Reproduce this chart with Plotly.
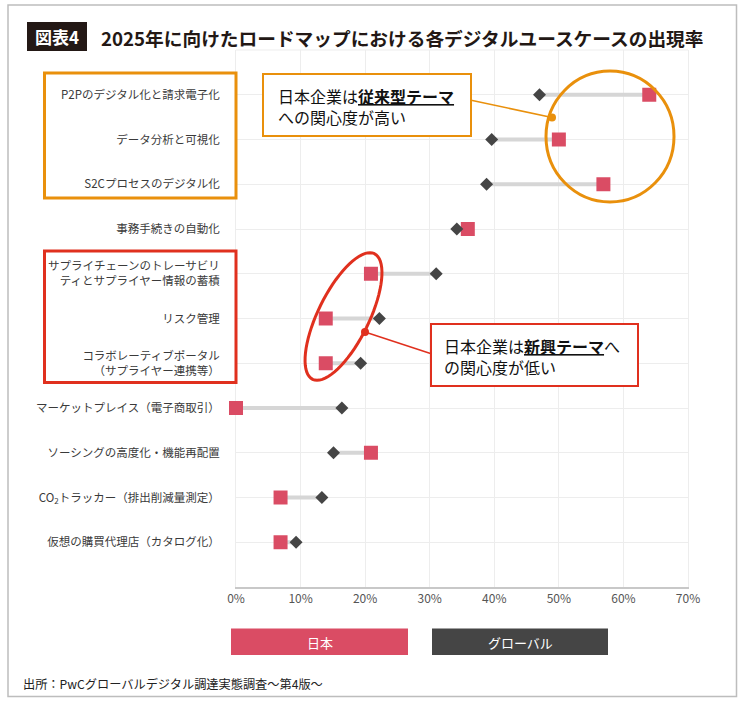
import math
import plotly.graph_objects as go

# ---------------- data ----------------
categories = [
    "P2Pのデジタル化と請求電子化",
    "データ分析と可視化",
    "S2Cプロセスのデジタル化",
    "事務手続きの自動化",
    "サプライチェーンのトレーサビリ<br>ティとサプライヤー情報の蓄積",
    "リスク管理",
    "コラボレーティブポータル<br>（サプライヤー連携等）",
    "マーケットプレイス（電子商取引）",
    "ソーシングの高度化・機能再配置",
    "CO<sub>2</sub>トラッカー（排出削減量測定）",
    "仮想の購買代理店（カタログ化）",
]
japan = [64.0, 50.0, 56.9, 35.9, 20.9, 13.9, 13.9, 0.0, 20.9, 6.9, 6.9]
global_ = [47.0, 39.6, 38.8, 34.2, 31.0, 22.2, 19.3, 16.4, 15.1, 13.3, 9.3]
series_names = ["日本", "グローバル"]
x_ticks = [0, 10, 20, 30, 40, 50, 60, 70]
x_tick_labels = [f"{v}%" for v in x_ticks]

title_tag = "図表4"
title_text = "2025年に向けたロードマップにおける各デジタルユースケースの出現率"
source_text = "出所：PwCグローバルデジタル調達実態調査～第4版～"
callout_high = "日本企業は<span style='font-weight:bold;text-decoration:underline'>従来型テーマ</span><br>への関心度が高い"
callout_low = "日本企業は<span style='font-weight:bold;text-decoration:underline'>新興テーマ</span>へ<br>の関心度が低い"

# ---------------- styles ----------------
FONT = "Noto Sans CJK JP"
C_JP = "#DA4C64"
C_GL = "#454545"
C_CONN = "#D6D6D6"
C_ORANGE = "#E9900C"
C_RED = "#E0301E"
C_GRID = "#EDEDED"

W, H = 740, 704
L, R, T, B = 236, 688, 50, 587


def px(x):
    return (x - L) / (R - L)


def py(y):
    return (B - y) / (B - T)


rows = list(range(len(categories)))

fig = go.Figure()

# connectors
cx, cy = [], []
for i, (a, b) in enumerate(zip(japan, global_)):
    cx += [a, b, None]
    cy += [i, i, None]
fig.add_trace(go.Scatter(x=cx, y=cy, mode="lines", line=dict(color=C_CONN, width=4),
                         hoverinfo="skip", showlegend=False, cliponaxis=False))
fig.add_trace(go.Scatter(x=japan, y=rows, mode="markers", name=series_names[0],
                         marker=dict(symbol="square", size=14, color=C_JP),
                         showlegend=False, cliponaxis=False))
fig.add_trace(go.Scatter(x=global_, y=rows, mode="markers", name=series_names[1],
                         marker=dict(symbol="diamond", size=10, color=C_GL),
                         showlegend=False, cliponaxis=False))

shapes = []
annotations = []

# outer frame
shapes.append(dict(type="rect", xref="paper", yref="paper", x0=px(8), x1=px(736.5),
                   y0=py(5), y1=py(696.5), line=dict(color="#BDBDBD", width=1.5), layer="below"))
# top grid border
shapes.append(dict(type="line", xref="paper", yref="paper", x0=0, x1=1, y0=1, y1=1,
                   line=dict(color=C_GRID, width=1), layer="below"))

# title tag box
shapes.append(dict(type="rect", xref="paper", yref="paper", x0=px(27), x1=px(87),
                   y0=py(51), y1=py(22), fillcolor="#231815", line=dict(width=0)))
annotations.append(dict(xref="paper", yref="paper", x=px(57), y=py(36.5), text=f"<b>{title_tag}</b>",
                        showarrow=False, xanchor="center", yanchor="middle",
                        font=dict(family=FONT, size=17, color="white")))
annotations.append(dict(xref="paper", yref="paper", x=px(99), y=py(37), text=f"<b>{title_text}</b>",
                        showarrow=False, xanchor="left", yanchor="middle",
                        font=dict(family=FONT, size=18.7, color="#231815")))

# category group boxes
shapes.append(dict(type="rect", xref="paper", yref="paper", x0=px(44.5), x1=px(236),
                   y0=py(198), y1=py(73), line=dict(color=C_ORANGE, width=3)))
shapes.append(dict(type="rect", xref="paper", yref="paper", x0=px(44.5), x1=px(236),
                   y0=py(382.5), y1=py(251), line=dict(color=C_RED, width=3)))

# orange ellipse
shapes.append(dict(type="circle", xref="paper", yref="paper", x0=px(546), x1=px(674),
                   y0=py(202), y1=py(71), line=dict(color=C_ORANGE, width=3)))

# red rotated ellipse
cxp, cyp, a_ax, b_ax, th = 343.5, 316.5, 70.0, 25.5, math.radians(-63.8)
pts = []
for k in range(73):
    t = 2 * math.pi * k / 72
    ex = a_ax * math.cos(t)
    ey = b_ax * math.sin(t)
    xx = cxp + ex * math.cos(th) - ey * math.sin(th)
    yy = cyp + ex * math.sin(th) + ey * math.cos(th)
    pts.append((px(xx), py(yy)))
path = "M " + " L ".join(f"{x:.5f},{y:.5f}" for x, y in pts) + " Z"
shapes.append(dict(type="path", xref="paper", yref="paper", path=path,
                   line=dict(color=C_RED, width=3)))

# callout 1 (orange)
shapes.append(dict(type="line", xref="paper", yref="paper", x0=px(470), y0=py(100),
                   x1=px(552), y1=py(117.5), line=dict(color=C_ORANGE, width=1.5)))
shapes.append(dict(type="circle", xref="paper", yref="paper", x0=px(548), x1=px(556),
                   y0=py(121.5), y1=py(113.5), fillcolor=C_ORANGE, line=dict(width=0)))
shapes.append(dict(type="rect", xref="paper", yref="paper", x0=px(263), x1=px(471),
                   y0=py(136), y1=py(74), fillcolor="white", line=dict(color=C_ORANGE, width=2)))
annotations.append(dict(xref="paper", yref="paper", x=px(276), y=py(106.5), text=callout_high,
                        showarrow=False, xanchor="left", yanchor="middle", align="left",
                        font=dict(family=FONT, size=16, color="#111111")))

# callout 2 (red)
shapes.append(dict(type="line", xref="paper", yref="paper", x0=px(432), y0=py(354),
                   x1=px(365), y1=py(332), line=dict(color=C_RED, width=1.5)))
shapes.append(dict(type="circle", xref="paper", yref="paper", x0=px(361), x1=px(369),
                   y0=py(336), y1=py(328), fillcolor=C_RED, line=dict(width=0)))
shapes.append(dict(type="rect", xref="paper", yref="paper", x0=px(431), x1=px(638),
                   y0=py(386), y1=py(324), fillcolor="white", line=dict(color=C_RED, width=2)))
annotations.append(dict(xref="paper", yref="paper", x=px(442), y=py(356), text=callout_low,
                        showarrow=False, xanchor="left", yanchor="middle", align="left",
                        font=dict(family=FONT, size=16, color="#111111")))

# legend boxes
leg = [(series_names[0], C_JP, 231, 408), (series_names[1], C_GL, 432, 608)]
for name, col, x0, x1 in leg:
    shapes.append(dict(type="rect", xref="paper", yref="paper", x0=px(x0), x1=px(x1),
                       y0=py(655), y1=py(628.5), fillcolor=col, line=dict(width=0)))
    annotations.append(dict(xref="paper", yref="paper", x=px((x0 + x1) / 2), y=py(642),
                            text=name, showarrow=False, xanchor="center", yanchor="middle",
                            font=dict(family=FONT, size=13, color="white")))

# source
annotations.append(dict(xref="paper", yref="paper", x=px(21), y=py(684), text=source_text,
                        showarrow=False, xanchor="left", yanchor="middle",
                        font=dict(family=FONT, size=12.2, color="#222222")))

fig.update_layout(
    width=W, height=H,
    margin=dict(l=L, r=W - R, t=T, b=H - B, pad=0),
    paper_bgcolor="white", plot_bgcolor="white",
    font=dict(family=FONT),
    shapes=shapes, annotations=annotations,
    xaxis=dict(range=[0, 70], tickvals=x_ticks, ticktext=x_tick_labels,
               showgrid=True, gridcolor=C_GRID, gridwidth=1, zeroline=False,
               showline=True, linecolor="#C8C8C8", linewidth=2, layer="below traces",
               tickfont=dict(family=FONT, size=12, color="#555555"), ticks="",
               fixedrange=True),
    yaxis=dict(range=[11, -1], tickvals=rows, ticktext=categories,
               showgrid=True, gridcolor=C_GRID, gridwidth=1, zeroline=False,
               showline=True, linecolor=C_GRID, mirror=True, layer="below traces",
               tickfont=dict(family=FONT, size=11.5, color="#3A3A3A"), ticks="",
               ticklabelstandoff=13, fixedrange=True),
)

fig.write_html(
    "out.html",
    config={"displayModeBar": False},
    post_script="document.body.style.margin='0';document.body.style.overflow='hidden';",
)
